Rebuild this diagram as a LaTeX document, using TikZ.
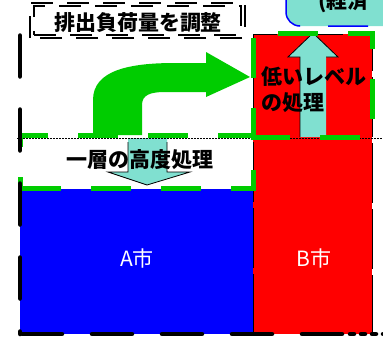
\documentclass[tikz,border=0pt]{standalone}
\usepackage{fontspec}
\setmainfont{Noto Sans CJK JP}
\definecolor{pgreen}{RGB}{0,204,0}
\definecolor{pteal}{RGB}{128,224,208}
\definecolor{pblue}{RGB}{0,0,255}
\definecolor{pred}{RGB}{255,0,0}
\begin{document}
\begin{tikzpicture}[x=1pt,y=-1pt,
  greendash/.style={draw=pgreen,line width=5pt,dash pattern=on 40pt off 30pt},
  thickblack/.style={draw=black,line width=4.5pt,line cap=round},
  thinframe/.style={draw=black,line width=1pt,dash pattern=on 60pt off 6pt},
  dotline/.style={draw=black,line width=1pt,dash pattern=on 1.5pt off 1.5pt},
  blockarrow/.style={fill=pteal},
  arrowedge/.style={draw=black,line width=0.8pt},
  titleframe/.style={draw=black,line width=1.1pt,dash pattern=on 22pt off 14pt},
  lbl/.style={font=\bfseries\fontsize{21}{26}\selectfont,inner sep=0pt},
  citylbl/.style={text=white,font=\fontsize{21}{24}\selectfont,inner sep=0pt}]
\clip (0,0) rectangle (383,340);
\fill[white] (0,0) rectangle (383,340);
% city areas
\fill[pblue] (20,189) rectangle (253,334);
\fill[pred] (253,34) rectangle (372,334);
\draw[thinframe] (253,334) -- (253,34) -- (372,34) -- (372,334);
% teal up arrow
\fill[blockarrow] (300,137) -- (300,57) -- (288,57) -- (313,33) -- (338,57) -- (326,57) -- (326,137) -- cycle;
\draw[arrowedge] (300,137) -- (300,57) -- (288,57) -- (313,33) -- (338,57) -- (326,57);
% teal down arrow
\fill[blockarrow] (128,138) -- (128,172) -- (108,172) -- (147,185) -- (190,172) -- (167,172) -- (167,138) -- cycle;
\draw[arrowedge] (128,142) -- (128,172) -- (108,172) -- (147,185) -- (190,172) -- (167,172) -- (167,142);
% dotted level line
\draw[dotline] (17,138) -- (383,138);
% green bent arrow
\fill[pgreen] (93,135) -- (93,100) .. controls (93,70) and (130,63) .. (175,63) -- (206,63) -- (206,52) -- (250,77) -- (206,97) -- (206,92) -- (165,92) .. controls (150,92) and (142,95) .. (142,105) -- (142,135) -- cycle;
% green dashed boxes
\draw[greendash, dash phase=29pt] (20,188) -- (20,135) -- (253,135) -- (253,188) -- cycle;
\draw[greendash, dash phase=11pt] (253,137) -- (253,33) -- (372,33) -- (372,137) -- cycle;
% thick black frame
\draw[thickblack, dash pattern=on 41pt off 33pt] (20,35.5) -- (20,334);
\draw[thickblack, dash pattern=on 40pt off 30pt] (22,334) -- (345,334);
\draw[thickblack, dash pattern=on 4pt off 7pt] (350,334) -- (383,334);
% labels
\node[lbl] (adv) at (140,160) {一層の高度処理};
\node[lbl, align=left, anchor=west] (low) at (261,90) {低いレベル\\の処理};
\node[citylbl] (cityA) at (137,258) {A市};
\node[citylbl] (cityB) at (314,258) {B市};
% title
\node[lbl] (title) at (138,23) {排出負荷量を調整};
\draw[titleframe] (30,38) -- (30,3) -- (245,3) -- (245,38) -- cycle;
\draw[titleframe, dash phase=18pt] (34,35) -- (34,6) -- (241,6) -- (241,35) -- cycle;
% top right box
\fill[pteal, rounded corners=14pt] (286,-30) rectangle (420,26);
\draw[pblue, line width=1.5pt, rounded corners=14pt, dash pattern=on 40pt off 28pt] (368,26) -- (286,26) -- (286,-30);
\node[lbl, anchor=base west] (econ) at (318,9) {(経済};
\end{tikzpicture}
\end{document}
